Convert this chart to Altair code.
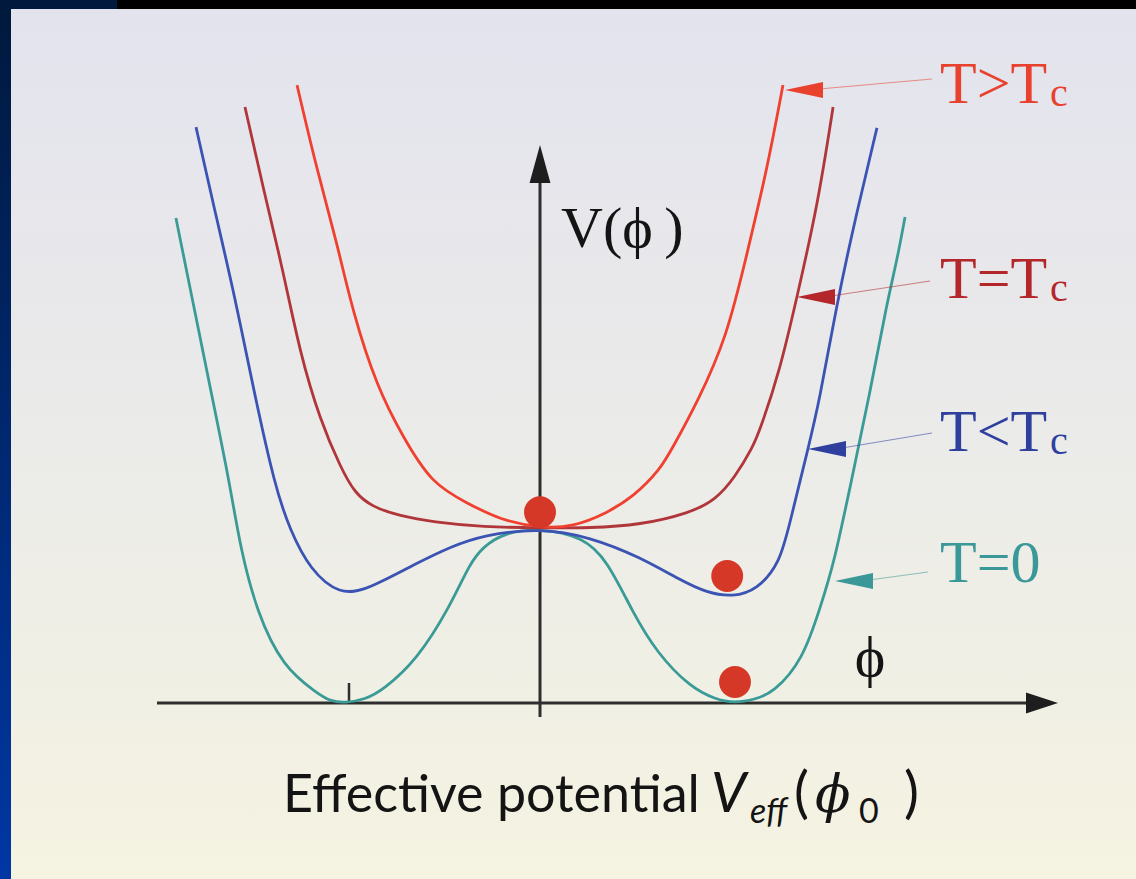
import altair as alt
import pandas as pd

W, H = 1136, 879

# Field value phi (broken-phase minimum at |phi| = 1) and potential V (V(0) = 1)
PHI_T0 = [-1.867, -1.779, -1.692, -1.59, -1.538, -1.451, -1.318, -1.144, -1.077, -1.0,
          -0.897, -0.805, -0.631, -0.462, -0.359, -0.292, -0.19, 0.0, 0.221, 0.344,
          0.477, 0.6, 0.769, 0.9, 1.0, 1.1, 1.195, 1.349, 1.441, 1.508, 1.595, 1.692,
          1.779, 1.831, 1.872]
V_T0 = [2.771, 2.286, 1.806, 1.251, 0.891, 0.514, 0.206, 0.057, 0.01, 0.0,
        0.02, 0.074, 0.246, 0.549, 0.8, 0.891, 0.971, 1.0, 0.949, 0.817,
        0.514, 0.286, 0.091, 0.02, 0.0, 0.02, 0.057, 0.246, 0.56, 0.8, 1.26, 1.771,
        2.286, 2.531, 2.777]

PHI_BELOW = [-1.764, -1.677, -1.564, -1.472, -1.359, -1.282, -1.179, -1.026, -0.887, -0.631,
             -0.462, -0.292, 0.0, 0.256, 0.513, 0.718, 0.856, 0.99, 1.113, 1.231, 1.282,
             1.374, 1.431, 1.523, 1.615, 1.728]
V_BELOW = [3.291, 2.857, 2.32, 1.806, 1.234, 0.989, 0.76, 0.617, 0.646, 0.8,
           0.891, 0.96, 1.0, 0.949, 0.834, 0.703, 0.629, 0.606, 0.646, 0.8, 1.034,
           1.451, 1.714, 2.286, 2.76, 3.286]

PHI_CRIT = [-1.513, -1.421, -1.318, -1.231, -1.128, -1.02, -0.95, -0.86, -0.72, -0.549,
            -0.292, 0.0, 0.256, 0.513, 0.769, 0.9, 1.0, 1.092, 1.128, 1.231, 1.318, 1.426,
            1.503]
V_CRIT = [3.406, 2.949, 2.474, 2.0, 1.617, 1.34, 1.2, 1.12, 1.07, 1.034,
          1.006, 1.0, 1.0, 1.017, 1.086, 1.16, 1.29, 1.463, 1.56, 1.903, 2.32, 2.857,
          3.406]

PHI_ABOVE = [-1.246, -1.144, -1.041, -0.959, -0.836, -0.703, -0.554, -0.374, -0.205, 0.0,
             0.169, 0.344, 0.477, 0.615, 0.682, 0.805, 0.959, 1.062, 1.164, 1.246]
V_ABOVE = [3.531, 3.046, 2.629, 2.229, 1.806, 1.52, 1.251, 1.143, 1.046, 1.0,
           1.006, 1.086, 1.177, 1.331, 1.463, 1.714, 2.091, 2.571, 3.046, 3.531]

CURVES = ["T=0", "T<Tc", "T=Tc", "T>Tc"]
CURVE_COLORS = ["#3a9b96", "#3b54b4", "#b0363a", "#f0402f"]

# Balls resting in the potential
BALL_PHI = [0.0, 0.96, 1.0]
BALL_V = [1.09, 0.726, 0.12]

# Temperature labels
LABEL_MAIN = ["T>T", "T=T", "T<T", "T=0"]
LABEL_SUB = ["c", "c", "c", ""]
LABEL_COLORS = ["#e8412e", "#b3262a", "#2f3f9e", "#3a9898"]

# ---- pixel layout of the drawing --------------------------------------
OX, OY, UX, UY = 540, 703, 195, 175


def fx(px):
    return (px - OX) / UX


def fy(py):
    return (OY - py) / UY


xs = alt.Scale(domain=[fx(0), fx(W)], nice=False, zero=False)
ys = alt.Scale(domain=[fy(H), fy(0)], nice=False, zero=False)


def X(f):
    return alt.X(f, type="quantitative", scale=xs, axis=None)


def Y(f):
    return alt.Y(f, type="quantitative", scale=ys, axis=None)


one = pd.DataFrame({"k": [0]})

# ---- background -------------------------------------------------------
frame = alt.Chart(one).mark_rect(
    color=alt.Gradient(gradient="linear", x1=0, x2=0, y1=0, y2=1,
                       stops=[alt.GradientStop(color="#00193c", offset=0),
                              alt.GradientStop(color="#0037a4", offset=1)])
).encode(x=alt.value(0), x2=alt.value(11), y=alt.value(0), y2=alt.value(H))

top_band = alt.Chart(one).mark_rect(color="#00193c").encode(
    x=alt.value(0), x2=alt.value(117), y=alt.value(0), y2=alt.value(9))

panel = alt.Chart(one).mark_rect(
    color=alt.Gradient(gradient="linear", x1=0, x2=0, y1=0, y2=1,
                       stops=[alt.GradientStop(color="#e3e3ee", offset=0),
                              alt.GradientStop(color="#ebebe9", offset=0.5),
                              alt.GradientStop(color="#f5f3e1", offset=1)])
).encode(x=alt.value(11), x2=alt.value(W), y=alt.value(9), y2=alt.value(H))

# ---- coordinate axes ---------------------------------------------------
axes_df = pd.DataFrame({
    "x1": [fx(157), fx(540)], "x2": [fx(1032), fx(540)],
    "y1": [fy(703), fy(717)], "y2": [fy(703), fy(180)],
})
axes = alt.Chart(axes_df).mark_rule(color="#2e2e2e", strokeWidth=3).encode(
    x=X("x1"), x2="x2", y=Y("y1"), y2="y2")

tick = alt.Chart(pd.DataFrame({"x1": [fx(349)], "y1": [fy(703)], "y2": [fy(683)]})).mark_rule(
    color="#2e2e2e", strokeWidth=2.5).encode(x=X("x1"), y=Y("y1"), y2="y2")

v_head = alt.Chart(pd.DataFrame({"x": [fx(540)], "y": [fy(164)]})).mark_point(
    shape="M0,-1L0.55,1L-0.55,1Z", size=1444, filled=True, opacity=1,
    color="#1e1e1e", strokeWidth=0).encode(x=X("x"), y=Y("y"))

h_head = alt.Chart(pd.DataFrame({"x": [fx(1042)], "y": [fy(703)]})).mark_point(
    shape="M1,0L-1,-0.65L-1,0.65Z", size=1024, filled=True, opacity=1,
    color="#1e1e1e", strokeWidth=0).encode(x=X("x"), y=Y("y"))

# ---- potential curves ---------------------------------------------------
curve_rows = []
for name, ph, vv in zip(CURVES, [PHI_T0, PHI_BELOW, PHI_CRIT, PHI_ABOVE],
                        [V_T0, V_BELOW, V_CRIT, V_ABOVE]):
    for p, v in zip(ph, vv):
        curve_rows.append({"curve": name, "phi": p, "V": v})
curve_df = pd.DataFrame(curve_rows)

curves = alt.layer(*[
    alt.Chart(curve_df[curve_df["curve"] == c]).mark_line(
        interpolate="basis", strokeWidth=2.8, color=col).encode(
        x=X("phi"), y=Y("V"), order="phi:Q")
    for c, col in zip(CURVES, CURVE_COLORS)
])

balls = alt.Chart(pd.DataFrame({"phi": BALL_PHI, "V": BALL_V})).mark_circle(
    size=1018, opacity=1, color="#d63828").encode(x=X("phi"), y=Y("V"))

# ---- labels with leader arrows -----------------------------------------
tip_px = [785, 797, 808, 835]
tip_py = [90, 297, 449, 581]
end_px = [932, 930, 932, 928]
end_py = [79, 281, 433, 572]
base_py = [103, 298, 451, 582]
TEXT_X = 940
SUB_X = 1050

lab = pd.DataFrame({
    "main": LABEL_MAIN, "sub": LABEL_SUB, "col": LABEL_COLORS,
    "hx": [fx(p + 19) for p in tip_px], "hy": [fy(p) for p in tip_py],
    "lx1": [fx(p + 34) for p in tip_px], "ly1": [fy(p - 1) for p in tip_py],
    "lx2": [fx(p) for p in end_px], "ly2": [fy(p) for p in end_py],
    "tx": [fx(TEXT_X)] * 4, "ty": [fy(p) for p in base_py],
    "sx": [fx(SUB_X)] * 4, "sy": [fy(p + 3) for p in base_py],
})

leaders = alt.Chart(lab).mark_rule(strokeWidth=1.1, opacity=0.55).encode(
    x=X("lx1"), x2="lx2", y=Y("ly1"), y2="ly2", color=alt.Color("col:N", scale=None))

heads = alt.Chart(lab).mark_point(
    shape="M-1,0L1,-0.42L1,0.42Z", size=1444, filled=True, opacity=1, strokeWidth=0).encode(
    x=X("hx"), y=Y("hy"), color=alt.Color("col:N", scale=None))

label_main = alt.Chart(lab).mark_text(
    font="Liberation Serif", fontSize=60, align="left", baseline="alphabetic").encode(
    x=X("tx"), y=Y("ty"), text="main:N", color=alt.Color("col:N", scale=None))

label_sub = alt.Chart(lab).mark_text(
    font="Liberation Serif", fontSize=40, align="left", baseline="alphabetic").encode(
    x=X("sx"), y=Y("sy"), text="sub:N", color=alt.Color("col:N", scale=None))

# ---- axis symbols and caption -------------------------------------------


def static_text(txt, x, y, size, font="Liberation Serif", style="normal", color="#141414",
                align="left"):
    return alt.Chart(one).mark_text(
        text=txt, font=font, fontSize=size, fontStyle=style, align=align,
        baseline="alphabetic", color=color).encode(x=alt.value(x), y=alt.value(y))


texts = [
    static_text("V(ϕ\u2009)", 561, 247, 58),
    static_text("ϕ", 870, 676, 58, align="center"),
    static_text("Effective potential", 283, 812, 52, font="Lato"),
    static_text("V", 711, 812, 56, font="Lato", style="italic"),
    static_text("eff", 750, 823, 34, font="Lato", style="italic"),
    static_text("(", 794, 812, 56, font="Lato"),
    static_text("ϕ", 815, 812, 52, font="DejaVu Serif", style="italic"),
    static_text("0", 859, 823, 34, font="Lato"),
    static_text(")", 904, 812, 56, font="Lato"),
]

chart = alt.layer(
    frame, top_band, panel, axes, tick, v_head, h_head, curves, balls,
    leaders, heads, label_main, label_sub, *texts
).properties(
    width=W, height=H, padding=0, autosize=alt.AutoSizeParams(type="none"),
    background="#000000"
).configure_view(stroke=None)

chart.save("out.html", embed_options={"renderer": "svg", "actions": False})
